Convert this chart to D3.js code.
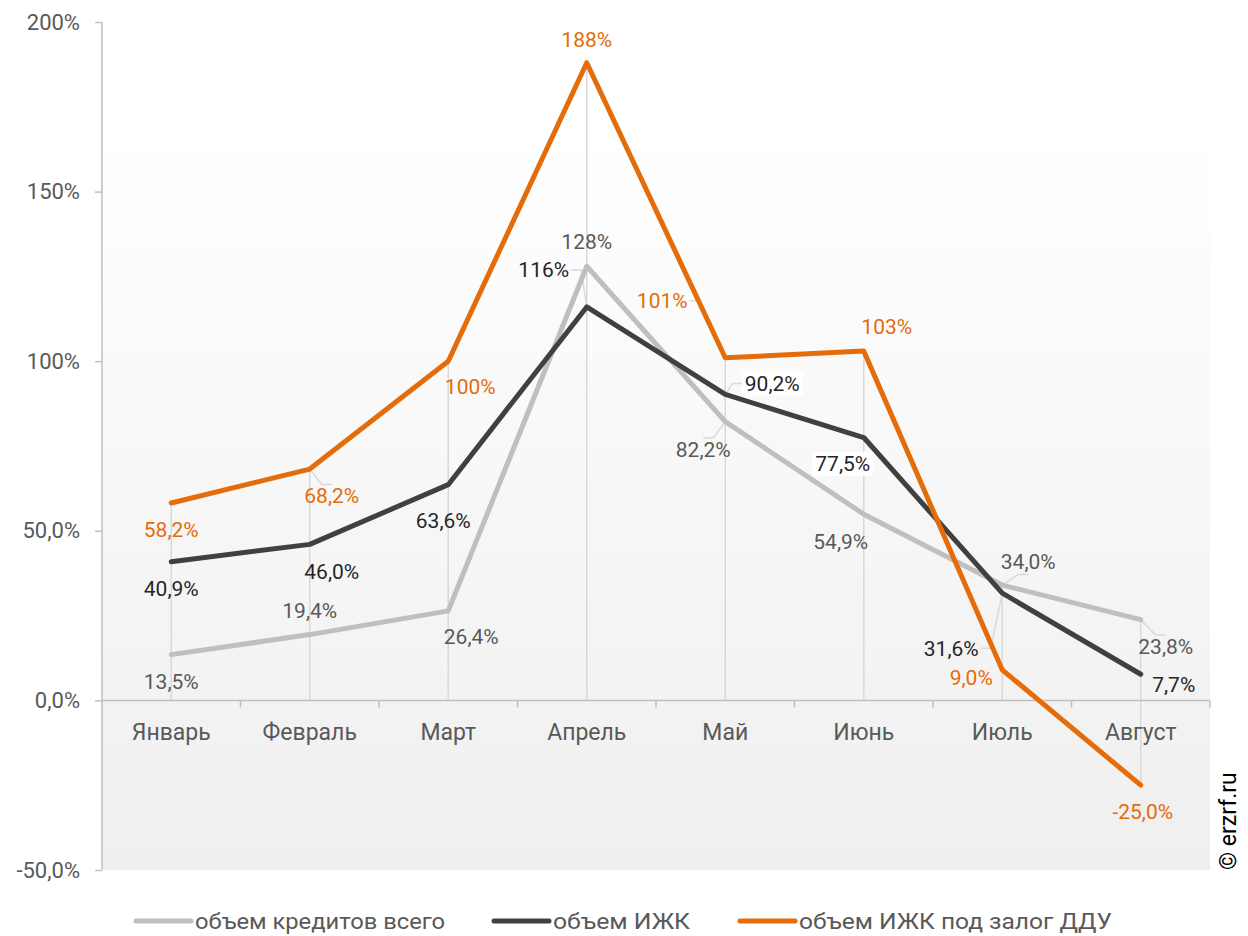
<!DOCTYPE html>
<html>
<head>
<meta charset="utf-8">
<script src="https://cdn.jsdelivr.net/npm/d3@7"></script>
<style>
  body { margin: 0; background: #fff; }
  text { font-family: Roboto, "Noto Sans", sans-serif; }
</style>
</head>
<body>
<script>
// data
let months = ['Январь', 'Февраль', 'Март', 'Апрель', 'Май', 'Июнь', 'Июль', 'Август'];
let totalVals = [13.5, 19.4, 26.4, 128, 82.2, 54.9, 34.0, 23.8];
let izhkVals = [40.9, 46.0, 63.6, 116, 90.2, 77.5, 31.6, 7.7];
let dduVals = [58.2, 68.2, 100, 188, 101, 103, 9.0, -25.0];
let seriesNames = ['объем кредитов всего', 'объем ИЖК', 'объем ИЖК под залог ДДУ'];
let yTicks = [-50, 0, 50, 100, 150, 200];

// label offsets (layout only) [dx, dy, leader, white box]
let totalLab = [[0,27,0],[0,-24,0],[23,26,0],[0,-25,0],[-22,28,1],[-23,27,0],[26,-23,1],[25,27,1]];
let izhkLab = [[0,27,0],[22,27,0],[-5,36,0],[-43,-37,1],[47,-11,1,1],[-21,26,0,1],[-51,55,1],[33,10,0]];
let dduLab = [[0,27,0],[22,27,1],[22,25,0],[0,-23,0],[-63,-57,1],[23,-24,0],[-31,8,0],[2,26,0]];

const W = 1248, H = 936;
const L = 102, R = 1210, T = 22, B = 870;
const GRAY = '#bfbfbf', DARK = '#404040', ORANGE = '#e46c0a';

let svg = d3.select('body').append('svg')
    .attr('width', W)
    .attr('height', H);

let defs = svg.append('defs');
let grad = defs.append('linearGradient')
    .attr('id', 'bg')
    .attr('x1', 0).attr('y1', 0).attr('x2', 0).attr('y2', 1);
grad.append('stop').attr('offset', '0%').attr('stop-color', '#ffffff');
grad.append('stop').attr('offset', '12%').attr('stop-color', '#ffffff');
grad.append('stop').attr('offset', '100%').attr('stop-color', '#efefef');

let x = d3.scaleBand().domain(months).range([L, R]);
let y = d3.scaleLinear().domain([-50, 200]).range([B, T]);
let cx = m => x(m) + x.bandwidth() / 2;

function fmt(v) {
    let s = Math.abs(v) >= 100 ? d3.format('d')(v) : d3.format('.1f')(v).replace('.', ',');
    return s.replace('−', '-') + '%';
}

// plot background
svg.append('rect')
    .attr('x', L).attr('y', T)
    .attr('width', R - L).attr('height', B - T)
    .attr('fill', 'url(#bg)');

// drop lines
let all = [totalVals, izhkVals, dduVals];
months.forEach(function(m, i) {
    let vs = all.map(a => a[i]);
    svg.append('line')
        .attr('x1', cx(m)).attr('x2', cx(m))
        .attr('y1', y(Math.max(0, d3.max(vs))))
        .attr('y2', y(Math.min(0, d3.min(vs))))
        .attr('stroke', '#d9d9d9')
        .attr('stroke-width', 1.5);
});

// y axis
let yAxis = svg.append('g')
    .attr('transform', 'translate(' + L + ',0)')
    .call(d3.axisLeft(y).tickValues(yTicks).tickSize(7).tickPadding(15).tickFormat(fmt));
yAxis.selectAll('path, line').attr('stroke', GRAY).attr('stroke-width', 1.5);
yAxis.select('.domain').attr('d', 'M0,' + T + 'V' + B);
yAxis.selectAll('text')
    .attr('fill', '#595959')
    .style('font-size', '22px')
    .style('font-family', 'Roboto');

// x axis at zero
let xAxis = svg.append('g')
    .attr('transform', 'translate(0,' + y(0) + ')');
xAxis.append('line')
    .attr('x1', L).attr('x2', R)
    .attr('stroke', GRAY).attr('stroke-width', 1.5);
xAxis.selectAll('.tk')
    .data(months.slice(1).concat(['end']))
    .enter().append('line')
        .attr('class', 'tk')
        .attr('x1', d => d == 'end' ? R : x(d))
        .attr('x2', d => d == 'end' ? R : x(d))
        .attr('y1', 0).attr('y2', 7)
        .attr('stroke', GRAY).attr('stroke-width', 1.5);
xAxis.selectAll('.lbl')
    .data(months)
    .enter().append('text')
        .attr('class', 'lbl')
        .attr('x', d => cx(d))
        .attr('y', 40)
        .attr('text-anchor', 'middle')
        .attr('fill', '#595959')
        .style('font-size', '23px')
        .text(d => d);

// lines
let line = d3.line()
    .x((d, i) => cx(months[i]))
    .y(d => y(d));

let series = [
    {vals: totalVals, color: GRAY, lab: totalLab, tcolor: '#595959'},
    {vals: izhkVals, color: DARK, lab: izhkLab, tcolor: '#262626'},
    {vals: dduVals, color: ORANGE, lab: dduLab, tcolor: ORANGE}
];

let leaderG = svg.append('g');

series.forEach(function(s) {
    svg.append('path')
        .datum(s.vals)
        .attr('d', line)
        .attr('fill', 'none')
        .attr('stroke', s.color)
        .attr('stroke-width', 5)
        .attr('stroke-linejoin', 'round')
        .attr('stroke-linecap', 'round');
});

// leaders + labels
series.forEach(function(s) {
    s.vals.forEach(function(v, i) {
        let px = cx(months[i]), py = y(v);
        let o = s.lab[i];
        let lx = px + o[0], ly = py + o[1];
        let box = svg.append('rect').attr('fill', '#fff');
        let t = svg.append('text')
            .attr('x', lx)
            .attr('y', ly)
            .attr('dy', '0.35em')
            .attr('text-anchor', 'middle')
            .attr('fill', s.tcolor)
            .style('font-size', '21px')
            .text(fmt(v));
        let bb = t.node().getBBox();
        if (o[3]) {
            box.attr('x', bb.x - 3).attr('y', bb.y)
                .attr('width', bb.width + 6).attr('height', bb.height);
        } else {
            box.remove();
        }
        if (o[2]) {
            let ex, ey;
            if (Math.abs(o[0]) > bb.width / 2) {
                ex = o[0] < 0 ? bb.x + bb.width + 2 : bb.x - 2;
                ey = ly;
            } else {
                ex = lx;
                ey = o[1] < 0 ? bb.y + bb.height : bb.y;
            }
            let mx = ex + (o[0] < 0 ? 10 : (o[0] > 0 ? -10 : 0));
            leaderG.append('polyline')
                .attr('points', [[ex, ey], [mx, ey], [px, py]].map(p => p.join(',')).join(' '))
                .attr('fill', 'none')
                .attr('stroke', '#d9d9d9')
                .attr('stroke-width', 1.5);
        }
    });
});

// legend
let legX = [136, 494, 740];
let legW = [250, 137, 313];
seriesNames.forEach(function(n, i) {
    let g = svg.append('g').attr('transform', 'translate(' + legX[i] + ',921)');
    g.append('line')
        .attr('x1', 0).attr('x2', 55)
        .attr('stroke', series[i].color)
        .attr('stroke-width', 5)
        .attr('stroke-linecap', 'round');
    g.append('text')
        .attr('x', 59)
        .attr('dy', '0.35em')
        .attr('fill', '#595959')
        .attr('textLength', legW[i])
        .attr('lengthAdjust', 'spacingAndGlyphs')
        .style('font-size', '22px')
        .text(n);
});

// watermark
svg.append('text')
    .attr('transform', 'translate(1236,870) rotate(-90)')
    .attr('fill', '#000')
    .style('font-size', '23px')
    .text('© erzrf.ru');
</script>
</body>
</html>
